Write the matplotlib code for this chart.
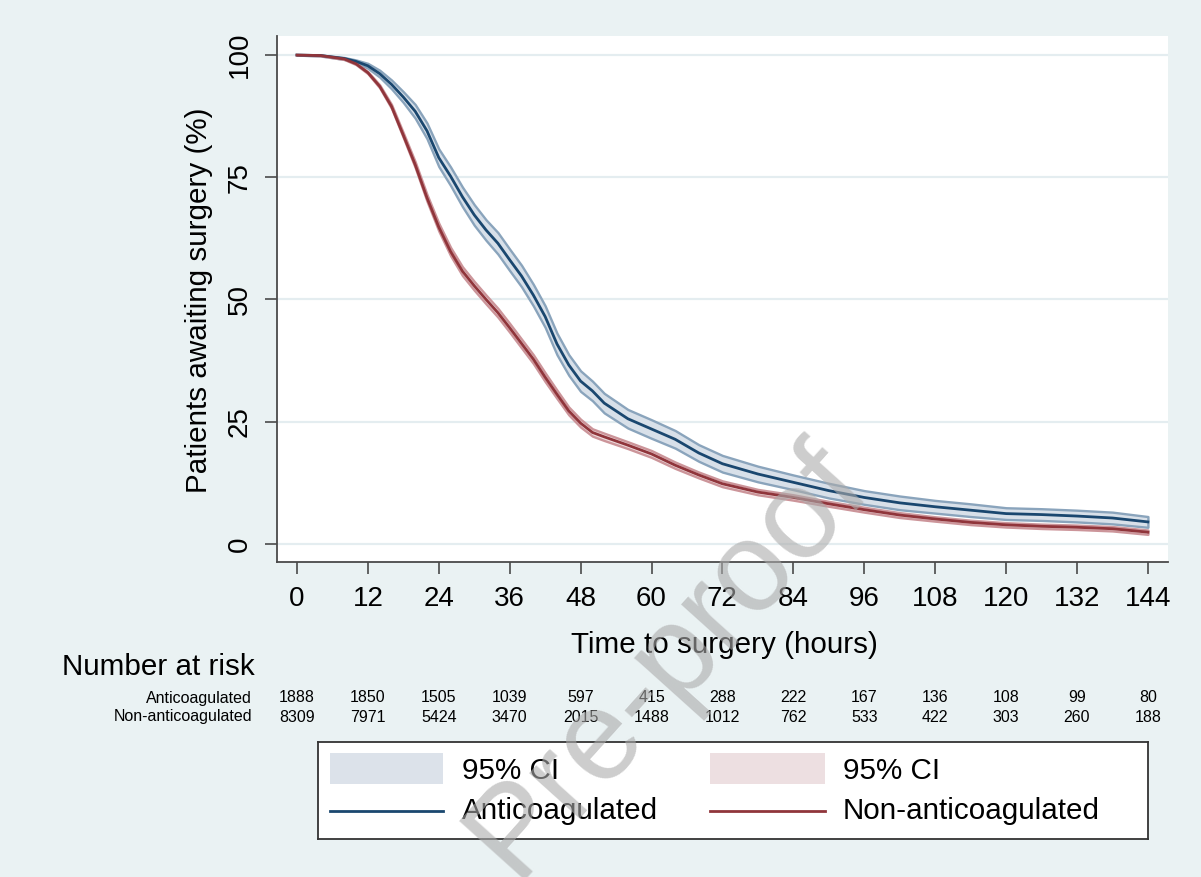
import matplotlib
matplotlib.use("Agg")
import matplotlib.pyplot as plt
import matplotlib.transforms as mtransforms
from matplotlib.patches import Rectangle
from matplotlib.lines import Line2D

plt.rcParams['font.family'] = ['Liberation Sans', 'DejaVu Sans']

# ---------------- data ----------------
time_h = [0, 4, 8, 10, 12, 14, 16, 18, 20, 22, 24, 26, 28, 30, 32, 34, 36, 38, 40,
          42, 44, 46, 48, 50, 52, 56, 60, 64, 68, 72, 78, 84, 90, 96, 102, 108,
          114, 120, 126, 132, 138, 144]

anticoag = [100, 99.9, 99.3, 98.7, 97.8, 96.2, 94.0, 91.4, 88.5, 84.5, 79.0, 75.2,
            71.0, 67.3, 64.2, 61.5, 58.1, 54.8, 50.9, 46.5, 40.9, 36.6, 33.3, 31.3,
            28.8, 25.6, 23.5, 21.4, 18.6, 16.4, 14.3, 12.6, 10.9, 9.5, 8.4, 7.6,
            6.9, 6.2, 6.0, 5.7, 5.3, 4.5]

non_anticoag = [100, 99.9, 99.2, 98.2, 96.4, 93.6, 89.5, 83.6, 77.6, 70.8, 64.8,
                59.8, 55.8, 52.8, 50.0, 47.3, 44.2, 41.0, 37.8, 34.1, 30.6, 27.2,
                24.7, 22.8, 21.9, 20.2, 18.4, 16.1, 14.1, 12.3, 10.6, 9.5, 8.2, 7.0,
                5.9, 5.1, 4.4, 3.9, 3.6, 3.4, 3.1, 2.4]

anticoag_ci_half = [0.0, 0.1, 0.2, 0.3, 0.5, 0.7, 0.9, 1.1, 1.4, 1.6, 1.8, 1.9, 2.0,
                    2.1, 2.1, 2.2, 2.2, 2.2, 2.2, 2.2, 2.2, 2.1, 2.1, 2.0, 2.0, 1.9,
                    1.9, 1.8, 1.7, 1.7, 1.6, 1.5, 1.5, 1.4, 1.4, 1.3, 1.3, 1.2, 1.2,
                    1.2, 1.2, 1.1]

non_anticoag_ci_half = [0.0, 0.05, 0.1, 0.15, 0.2, 0.3, 0.4, 0.5, 0.6, 0.7, 0.8,
                        0.85, 0.9, 0.9, 0.9, 0.9, 0.9, 0.9, 0.9, 0.9, 0.85, 0.8,
                        0.8, 0.75, 0.75, 0.7, 0.7, 0.65, 0.6, 0.6, 0.55, 0.55, 0.5,
                        0.5, 0.5, 0.45, 0.45, 0.45, 0.45, 0.45, 0.45, 0.45]

risk_times = [0, 12, 24, 36, 48, 60, 72, 84, 96, 108, 120, 132, 144]
risk_anticoag = [1888, 1850, 1505, 1039, 597, 415, 288, 222, 167, 136, 108, 99, 80]
risk_non_anticoag = [8309, 7971, 5424, 3470, 2015, 1488, 1012, 762, 533, 422, 303, 260, 188]

x_ticks = [0, 12, 24, 36, 48, 60, 72, 84, 96, 108, 120, 132, 144]
y_ticks = [0, 25, 50, 75, 100]

# ---------------- style ----------------
BG = '#EAF2F3'
NAVY = '#1A476F'
MAROON = '#90353B'
NAVY_FILL = '#D8E0E9'
NAVY_EDGE = '#8AA4BC'
MAROON_FILL = '#EEDCDE'
MAROON_EDGE = '#CC959A'

W, H = 1201, 877
fig = plt.figure(figsize=(W / 100, H / 100), dpi=100, facecolor=BG)


def px(x0, y0, x1, y1):
    return [x0 / W, 1 - y1 / H, (x1 - x0) / W, (y1 - y0) / H]


ax = fig.add_axes(px(277, 36, 1168, 562))
ax.set_facecolor('white')

ax.set_xlim(-3.38, 147.4)
ax.set_ylim(-3.7, 103.9)

for v in y_ticks:
    ax.axhline(v, color='#E4EDF0', lw=1.6, zorder=0)

lo_a = [m - h for m, h in zip(anticoag, anticoag_ci_half)]
hi_a = [m + h for m, h in zip(anticoag, anticoag_ci_half)]
lo_n = [m - h for m, h in zip(non_anticoag, non_anticoag_ci_half)]
hi_n = [m + h for m, h in zip(non_anticoag, non_anticoag_ci_half)]

ax.fill_between(time_h, lo_a, hi_a, facecolor=NAVY_FILL, edgecolor=NAVY_EDGE,
                linewidth=1.7, zorder=2)
ax.fill_between(time_h, lo_n, hi_n, facecolor=MAROON_FILL, edgecolor=MAROON_EDGE,
                linewidth=1.7, zorder=2)
ax.plot(time_h, anticoag, color=NAVY, lw=2.0, zorder=3)
ax.plot(time_h, non_anticoag, color=MAROON, lw=2.0, zorder=3)

for s in ['top', 'right']:
    ax.spines[s].set_visible(False)
for s in ['left', 'bottom']:
    ax.spines[s].set_color('#4a4a4a')
    ax.spines[s].set_linewidth(1.3)

ax.set_xticks(x_ticks)
ax.set_yticks(y_ticks)
ax.tick_params(axis='both', direction='out', length=8.5, width=1.2,
               color='#4a4a4a', labelsize=20, pad=9, labelcolor='black')
for lab in ax.get_yticklabels():
    lab.set_rotation(90)
    lab.set_va('center')

fig.text(199 / W, 1 - 300 / H, 'Patients awaiting surgery (%)', rotation=90,
         ha='center', va='center', fontsize=21.3)
fig.text(724 / W, 1 - 645 / H, 'Time to surgery (hours)', ha='center',
         va='center', fontsize=21.3)

# ---------------- number at risk ----------------
trans = mtransforms.blended_transform_factory(ax.transData, fig.transFigure)
fig.text(62 / W, 1 - 667 / H, 'Number at risk', ha='left', va='center', fontsize=21.3)
fig.text(252 / W, 1 - 698 / H, 'Anticoagulated', ha='right', va='center', fontsize=11.5)
fig.text(252 / W, 1 - 717 / H, 'Non-anticoagulated', ha='right', va='center', fontsize=11.5)
for t, a, n in zip(risk_times, risk_anticoag, risk_non_anticoag):
    fig.text(t, 1 - 698 / H, str(a), transform=trans, ha='center', va='center', fontsize=11.5)
    fig.text(t, 1 - 717 / H, str(n), transform=trans, ha='center', va='center', fontsize=11.5)

# ---------------- legend ----------------
lax = fig.add_axes(px(318, 742, 1148, 839))
lax.set_xlim(318, 1148)
lax.set_ylim(839, 742)
lax.set_facecolor('white')
for s in lax.spines.values():
    s.set_color('#333333')
    s.set_linewidth(1.3)
lax.set_xticks([])
lax.set_yticks([])
lax.add_patch(Rectangle((330, 753), 113, 31, facecolor='#DCE2EA', edgecolor='none'))
lax.add_patch(Rectangle((710, 753), 115, 31, facecolor='#EDDFE1', edgecolor='none'))
lax.add_line(Line2D([330, 443], [811, 811], color=NAVY, lw=2.0))
lax.add_line(Line2D([710, 825], [811, 811], color=MAROON, lw=2.0))
lax.text(462, 771, '95% CI', ha='left', va='center', fontsize=21.3)
lax.text(843, 771, '95% CI', ha='left', va='center', fontsize=21.3)
lax.text(462, 811, 'Anticoagulated', ha='left', va='center', fontsize=21.3)
lax.text(843, 811, 'Non-anticoagulated', ha='left', va='center', fontsize=21.3)

# ---------------- watermark ----------------
fig.text(668 / W, 1 - 660 / H, 'Pre-proof', rotation=48, ha='center', va='center',
         fontsize=92, color='#ABABAB', alpha=0.6, zorder=10)

fig.savefig('out.png', dpi=100, facecolor=BG)
